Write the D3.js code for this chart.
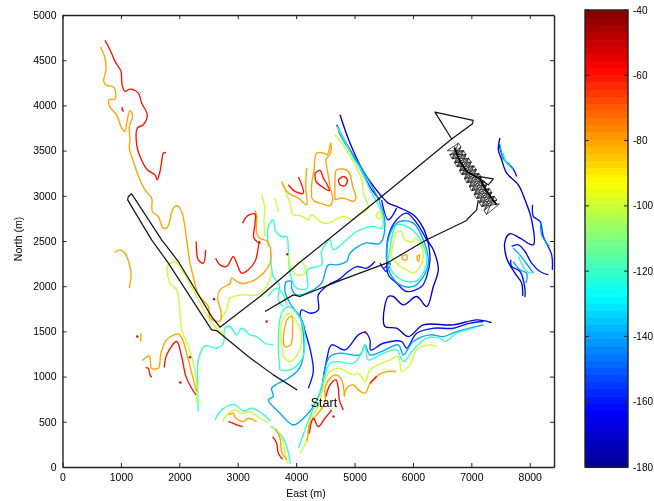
<!DOCTYPE html>
<html>
<head>
<meta charset="utf-8">
<script src="https://cdn.jsdelivr.net/npm/d3@7"></script>
<style>
  html, body { margin: 0; padding: 0; background: #fff; }
  svg { display: block; filter: blur(0.45px); }
  text { font-family: "Liberation Sans", Arial, sans-serif; fill: #000; }
</style>
</head>
<body>
<div id="chart"></div>
<script>
// all contour vertices are [east, north] in metres
const xTicks = [0, 1000, 2000, 3000, 4000, 5000, 6000, 7000, 8000];
const yTicks = [0, 500, 1000, 1500, 2000, 2500, 3000, 3500, 4000, 4500, 5000];
const barTicks = [-40, -60, -80, -100, -120, -140, -160, -180];

const redLines = [
  [[727,4719],[813,4616],[899,4487],[1001,4376],[1019,4228],[1070,4155],[1155,4180],[1298,4136],[1355,4026],[1452,3896],[1384,3786],[1281,3749],[1270,3564],[1327,3435],[1452,3288],[1583,3232],[1623,3177],[1669,3269],[1698,3380],[1726,3472],[1772,3479]],
  [[1013,3981],[1041,3933],[1013,3959]],
  [[2291,2495],[2325,2292],[2411,2255],[2451,2402]],
  [[3084,2697],[3153,2771],[3296,2800],[3296,2697],[3278,2531],[3381,2476],[3370,2495],[3336,2365],[3296,2273],[3181,2181],[3067,2144],[2982,2255],[2925,2328],[2811,2218],[2696,2236],[2622,2310]],
  [[3867,3122],[3981,3048],[4123,3030],[4038,3207]],
  [[4323,3251],[4409,3281],[4466,3196],[4534,3122],[4568,3056],[4437,3104],[4340,3159],[4323,3251]],
  [[4723,3177],[4808,3214],[4877,3177],[4837,3111],[4751,3122],[4723,3177]],
  [[1424,1100],[1469,1092],[1498,1019],[1526,993]],
  [[1743,1100],[1783,1240],[1954,1388],[2040,1222],[2114,1000],[2211,871],[2285,797]],
  [[2839,502],[2925,483],[2982,465],[3084,447]],
  [[3598,336],[3667,262],[3695,151],[3769,85]],
  [[4511,779],[4580,908],[4682,963],[4722,871],[4739,742],[4808,631]],
  [[4226,373],[4294,539],[4380,447],[4494,539],[4608,631]],
  [[5265,926],[5379,1000]]
];
const orangeLines = [
  [[653,4645],[727,4524],[745,4394],[705,4265],[756,4221],[882,4199],[899,4070],[796,4062],[813,3981],[927,3896],[1013,3749],[1070,3712],[1098,3804],[1155,3944],[1201,3878],[1144,3767],[1155,3620],[1144,3527],[1213,3380],[1315,3195],[1412,3066],[1526,2974],[1538,2826],[1640,2771],[1726,2642],[1795,2653],[1897,2863],[1966,2889],[2040,2826],[2086,2697],[2126,2513],[2183,2255],[2240,2107],[2325,1904],[2497,1775],[2525,1646],[2668,1609],[2713,1627],[2708,1738],[2656,1867],[2696,1960],[2868,2033],[2896,2089],[3039,2033],[3239,2052],[3438,2144],[3552,2255],[3564,2402],[3507,2495],[3381,2531],[3324,2586],[3324,2771],[3296,2837]],
  [[1338,1480],[1338,1388]],
  [[1367,1177],[1486,1229],[1526,1092],[1641,1092],[1686,1258],[1783,1406],[1983,1472],[2057,1406],[2154,1185],[2228,1000],[2297,834]],
  [[899,2373],[973,2402],[1070,2365],[1155,2218],[1173,2125],[1144,1978]],
  [[2839,576],[2925,594],[2953,550],[3096,502],[3181,539],[3324,502]],
  [[3638,428],[3724,318],[3752,170],[3838,78]],
  [[3752,3159],[3867,3030],[4038,2975],[4180,2901],[4163,3104],[4180,3307]],
  [[4266,2975],[4323,2938],[4409,2919],[4580,2890],[4625,2956],[4580,3104],[4534,3288],[4511,3399],[4591,3473],[4591,3583],[4534,3454],[4466,3473],[4352,3473],[4306,3288],[4266,3122],[4266,2975]],
  [[4665,2956],[4808,2975],[4979,2938],[5025,2975],[4968,3104],[4894,3270],[4694,3288],[4665,3122],[4665,2956]],
  [[5807,2329],[5892,2347],[5892,2292],[5824,2299],[5807,2329]],
  [[6063,2329],[6109,2347],[6092,2273],[6063,2329]],
  [[3838,1628],[3923,1665],[3941,1517],[3906,1351],[3809,1332],[3781,1443],[3838,1628]],
  [[4825,779],[4865,871],[4979,908],[5065,853],[5179,816],[5265,926],[5407,1019],[5550,1056],[5710,1056]],
  [[4192,281],[4237,484],[4351,576],[4494,705],[4494,871],[4580,982],[4682,1019],[4779,963],[4825,779]]
];
const limeLines = [
  [[3752,3159],[3895,2919],[3952,2790],[4095,2779],[4209,2735],[4266,2790],[4437,2705],[4551,2698],[4723,2753],[4808,2771],[4979,2742],[5065,2790],[5236,2864],[5150,3033],[5122,3177],[5008,3343],[4779,3583],[4665,3676]],
  [[3410,3012],[3467,2845],[3450,2734],[3467,2549]],
  [[3638,2974],[3695,2826],[3667,2900]],
  [[1783,2218],[1840,2033],[1954,1960],[2012,1701],[2040,1517],[2154,1332],[2240,1148],[2297,926],[2297,705]],
  [[1783,2218],[1926,2273],[2097,2125],[2297,1886],[2468,1683],[2639,1535],[2782,1461]],
  [[2696,1627],[2811,1738],[2868,1867],[3096,1904],[3324,1904],[3524,2033],[3581,2181]],
  [[2736,502],[2839,594],[2953,631],[3067,594],[3210,613],[3381,539],[3524,491]],
  [[3610,428],[3752,318],[3809,151],[3849,41]],
  [[3781,1222],[3752,1369],[3752,1591],[3866,1701],[4009,1609],[4095,1443],[4037,1259],[3895,1166],[3781,1222]],
  [[4066,151],[4180,299],[4237,521],[4380,668],[4494,963],[4580,1056],[4722,1093],[4865,1056],[4979,1019],[5065,1037],[5179,945],[5264,1074],[5407,1129],[5607,1185],[5750,1222],[5807,1056],[5949,1129],[6064,1296],[6292,1351],[6406,1332]],
  [[5692,2587],[5807,2605],[5835,2532],[5921,2495],[6006,2495],[6035,2532],[6121,2476],[6178,2329],[6121,2218],[6006,2144],[5892,2181],[5750,2236],[5635,2329],[5664,2476],[5692,2587]],
  [[5367,2790],[5436,2827],[5464,2771],[5407,2746],[5367,2790]],
  [[3866,2365],[3883,2254],[3923,2180],[4066,2273],[4152,2217],[4152,2144],[4009,2125],[3895,2217]]
];
const aquaLines = [
  [[2325,613],[2314,963],[2325,1185],[2440,1340],[2639,1314],[2753,1369],[2782,1535],[2868,1554],[2982,1461],[3067,1535],[3210,1461],[3324,1443],[3467,1369],[3610,1351]],
  [[3524,2439],[3524,2660],[3610,2734],[3638,2623],[3752,2549],[3838,2549],[3866,2402],[3895,2144],[4009,1978],[4192,1978],[4192,2180],[4437,2236],[4437,2383],[4580,2513],[4637,2402],[4865,2513],[5036,2605],[5322,2661],[5464,2642],[5493,2735],[5436,2864],[5293,3030],[5093,3307],[4979,3417],[4808,3639],[4694,3768]],
  [[3564,2365],[3609,2107],[3712,2014],[3695,1848],[3781,1775]],
  [[3524,1886],[3667,1978],[3781,1904],[3838,1788]],
  [[3724,1074],[3695,1369],[3752,1701],[3866,1775],[4009,1701],[4123,1554],[4152,1369],[4095,1185],[3895,1074],[3724,1074]],
  [[2610,520],[2740,640],[2940,690],[3100,620],[3250,650],[3420,590],[3560,510]],
  [[3570,450],[3780,320],[3880,120],[3900,30]],
  [[4037,207],[4237,557],[4380,779],[4494,1019],[4580,1148],[4722,1166],[4979,1148],[5122,1259],[5179,1351],[5236,1185],[5493,1259],[5721,1296],[5835,1166],[6006,1296],[6235,1425],[6463,1425],[6549,1388],[6748,1480],[7034,1535]],
  [[5607,2402],[5721,2679],[5949,2642],[6092,2550],[6206,2402],[6235,2255],[6092,2070],[5892,2052],[5664,2144],[5578,2292],[5607,2402]],
  [[7547,3473],[7604,3362],[7661,3325]],
  [[7804,2329],[7947,2163],[8032,2144]]
];
const skyLines = [
  [[4152,1535],[4066,1664],[3952,1756],[3866,1848],[3809,1941],[3838,2051],[3923,2051],[3923,1978],[4009,1904],[4294,1959],[4437,2033],[4551,2236],[4694,2236],[4865,2273],[4922,2365],[5179,2476],[5436,2476],[5521,2698],[5436,2919],[5236,3177],[5065,3362],[4836,3583],[4722,3712]],
  [[4066,1664],[4123,1480],[4123,1222],[4037,1074],[3866,982],[3695,926],[3581,871],[3609,779],[3524,742],[3724,594],[3952,465],[4152,557],[4294,668],[4437,871],[4494,1093],[4580,1222],[4751,1259],[5093,1240],[5179,1351],[5264,1240],[5464,1277],[5750,1351],[5835,1240],[6006,1388],[6292,1462],[6520,1443],[6748,1498],[7205,1572]],
  [[5550,2439],[5635,2624],[5778,2716],[6006,2698],[6178,2513],[6263,2255],[6178,2107],[6006,1997],[5778,2015],[5607,2144],[5550,2292],[5550,2439]],
  [[7490,3570],[7547,3417],[7718,3296]],
  [[8187,2698],[8204,2569],[8335,2439]],
  [[7718,2421],[7804,2366],[7918,2273],[8061,2144]],
  [[7718,2273],[7833,2181],[7947,2144],[7935,2034]]
];
const blueLines = [
  [[4066,1664],[4180,1443],[4266,1222],[4294,1056],[4209,871]],
  [[4066,1664],[4095,1738],[4237,1701],[4380,1738],[4380,1904],[4551,2014],[4722,2070],[4893,2162],[5036,2217],[5207,2199],[5350,2273]],
  [[4437,853],[4523,1185],[4608,1351],[4836,1295],[5065,1462],[5179,1491],[5264,1406],[5276,1295],[5493,1369],[5807,1388],[5892,1314],[6064,1480],[6349,1535],[6691,1535],[6977,1591],[7205,1609]],
  [[6263,2476],[6292,2292],[6235,2107],[6149,1997],[5892,1941],[5721,2033],[5578,2126],[5550,2292],[5578,2550],[5721,2735],[5892,2808],[6064,2698],[6263,2476]],
  [[5436,2255],[5550,2162],[5607,2255],[5510,2200]],
  [[4694,3786],[4808,3639],[5036,3380],[5293,3067],[5436,2956]],
  [[5464,2956],[5578,2735],[5721,2864]],
  [[7479,3565],[7547,3417],[7718,3296],[7776,3214]],
  [[8049,2901],[8061,2772],[8175,2716],[8232,2550],[8375,2347],[8386,2181]],
  [[7690,2440],[7804,2458],[7918,2384],[8032,2255],[8175,2163],[8318,2126]],
  [[7673,2292],[7690,2218],[7833,2163],[7918,1970],[7918,1878]]
];
const navyLines = [
  [[7347,1598],[7091,1628],[6691,1572],[6178,1572],[5921,1443],[5721,1535],[5521,1554],[5493,1646],[5578,1886],[5664,1886],[5835,1794],[6064,1886],[6235,1775],[6349,1997],[6434,2181],[6349,2402],[6263,2495],[6178,2642],[6006,2790],[5721,2882],[5578,2919],[5464,2993],[5350,3085],[5150,3270],[4922,3583],[4751,3897]],
  [[7490,3639],[7462,3510],[7519,3399],[7604,3251],[7804,3122],[7918,2956],[8032,2735],[8061,2458],[7833,2532],[7661,2580],[7576,2495],[7604,2310],[7747,2144],[7861,2034],[7878,1893]]
];
const specks = [[1281,1443],[2183,1214],[2017,934],[2594,1856],[3495,1609],[3849,2354],[5561,2255],[4640,560],[5180,1490]];

// the vehicle track, in order of travel
const trackOut = [[4020,852],[3610,1019],[3181,1222],[2639,1509],[2554,1517],[1812,2255],[1526,2513],[1115,2955],[1127,2992],[1184,3022],[1698,2513],[1983,2273],[2554,1664],[2696,1546],[3381,1886],[4066,2265],[5464,2993],[6663,3628],[7020,3797],[7031,3834],[6377,3926],[6663,3628]];
const surveyForward = [[6588,3498],[6865,3499],[6630,3454],[6909,3457],[6672,3410],[6953,3415],[6714,3366],[6997,3373],[6756,3322],[7041,3331],[6798,3278],[7085,3289],[6840,3234],[7129,3247],[6882,3190],[7173,3205],[6924,3146],[7217,3163],[6966,3102],[7261,3121],[7008,3058],[7305,3079],[7050,3014],[7349,3037],[7092,2970],[7393,2995],[7134,2926],[7437,2953],[7176,2882],[7481,2911]];
const surveyBack = [[7260,2794],[7393,2995],[7218,2838],[7349,3037],[7176,2882],[7305,3079],[7134,2926],[7261,3121],[7092,2970],[7217,3163],[7050,3014],[7173,3205],[7008,3058],[7129,3247],[6966,3102],[7085,3289],[6924,3146],[7041,3331],[6882,3190],[6997,3373],[6840,3234],[6953,3415],[6798,3278],[6909,3457],[6756,3322],[6865,3499],[6714,3366],[6821,3541],[6672,3410],[6777,3583]];
const surveyRungs = [[6588,3498],[6777,3583],[6821,3541],[6630,3454],[6672,3410],[6865,3499],[6909,3457],[6714,3366],[6756,3322],[6953,3415],[6997,3373],[6798,3278],[6840,3234],[7041,3331],[7085,3289],[6882,3190],[6924,3146],[7129,3247],[7173,3205],[6966,3102],[7008,3058],[7217,3163],[7261,3121],[7050,3014],[7092,2970],[7305,3079],[7349,3037],[7134,2926],[7176,2882],[7393,2995],[7437,2953],[7218,2838],[7260,2794],[7481,2911]];
const surveyStreak = [[6708,3535],[6805,3380],[6919,3269],[7148,3188],[7262,3048],[7433,2900]];
const surveyTurn = [[7119,3214],[7376,3188],[7290,3121],[7148,3188]];
const trackHome = [[7119,2955],[7091,2845],[6948,2752],[6919,2727],[6235,2513],[5550,2255],[4779,2070],[4066,1886],[3952,1904],[3467,1720]];

const startLabel = { east: 4250, north: 665, text: "Start" };

const contourSets = [
  { level: -172, lines: navyLines },
  { level: -160, lines: blueLines },
  { level: -140, lines: skyLines },
  { level: -120, lines: aquaLines },
  { level: -100, lines: limeLines },
  { level: -80, lines: orangeLines },
  { level: -60, lines: redLines }
];

const width = 654, height = 501;
const plotLeft = 62.5, plotRight = 554, plotTop = 15, plotBottom = 467;
const barLeft = 585, barRight = 628;

const svg = d3.select("#chart").append("svg")
    .attr("width", width)
    .attr("height", height);

const x = d3.scaleLinear().domain([0, 8415]).range([plotLeft, plotRight]);
const y = d3.scaleLinear().domain([0, 5000]).range([plotBottom, plotTop]);

const jet = d3.scaleLinear()
    .domain([-180, -162.5, -127.5, -92.5, -57.5, -40])
    .range(["#00008f", "#0000ff", "#00ffff", "#ffff00", "#ff0000", "#800000"])
    .interpolate(d3.interpolateRgb);

const line = d3.line().x(d => x(d[0])).y(d => y(d[1]));
const softLine = d3.line().x(d => x(d[0])).y(d => y(d[1])).curve(d3.curveCatmullRom.alpha(0.5));

// contours
contourSets.forEach(function(set){
    svg.append("g").selectAll("path")
        .data(set.lines)
        .enter()
        .append("path")
        .attr("d", softLine)
        .attr("fill", "none")
        .attr("stroke", jet(set.level))
        .attr("stroke-width", 1.35)
        .attr("stroke-linejoin", "round");
});

svg.append("g").selectAll("circle")
    .data(specks)
    .enter()
    .append("circle")
    .attr("cx", d => x(d[0]))
    .attr("cy", d => y(d[1]))
    .attr("r", 1.2)
    .attr("fill", "#c81010");

// track
[trackOut, surveyTurn, trackHome].forEach(function(part){
    svg.append("path")
        .attr("d", line(part))
        .attr("fill", "none")
        .attr("stroke", "#111")
        .attr("stroke-width", 1.2)
        .attr("stroke-linejoin", "round");
});
[surveyForward, surveyBack, surveyRungs].forEach(function(part){
    svg.append("path")
        .attr("d", line(part))
        .attr("fill", "none")
        .attr("stroke", "#222")
        .attr("stroke-width", 0.8);
});
svg.append("path")
    .attr("d", line(surveyStreak))
    .attr("fill", "none")
    .attr("stroke", "#000")
    .attr("stroke-width", 1.8);

svg.append("text")
    .attr("x", x(startLabel.east))
    .attr("y", y(startLabel.north))
    .attr("font-size", 12.5)
    .text(startLabel.text);

// axes, boxed with ticks inside on all four sides
function styleAxis(g){
    g.selectAll("text").attr("font-size", 10.5).attr("fill", "#000");
    g.selectAll("line").attr("stroke", "#222");
    g.select(".domain").attr("stroke", "#222").attr("stroke-width", 1.4);
}
svg.append("g").attr("transform", "translate(0," + plotBottom + ")")
    .call(d3.axisBottom(x).tickValues(xTicks).tickFormat(d3.format("d")).tickSizeInner(-4).tickSizeOuter(0).tickPadding(7))
    .call(styleAxis);
svg.append("g").attr("transform", "translate(0," + plotTop + ")")
    .call(d3.axisTop(x).tickValues(xTicks).tickFormat("").tickSizeInner(-4).tickSizeOuter(0))
    .call(styleAxis);
svg.append("g").attr("transform", "translate(" + plotLeft + ",0)")
    .call(d3.axisLeft(y).tickValues(yTicks).tickFormat(d3.format("d")).tickSizeInner(-4).tickSizeOuter(0).tickPadding(6))
    .call(styleAxis);
svg.append("g").attr("transform", "translate(" + plotRight + ",0)")
    .call(d3.axisRight(y).tickValues(yTicks).tickFormat("").tickSizeInner(-4).tickSizeOuter(0))
    .call(styleAxis);

svg.append("text")
    .attr("x", 306)
    .attr("y", 497)
    .attr("text-anchor", "middle")
    .attr("font-size", 10.5)
    .text("East (m)");
svg.append("text")
    .attr("transform", "translate(22,239) rotate(-90)")
    .attr("text-anchor", "middle")
    .attr("font-size", 10.5)
    .text("North (m)");

// colorbar, 64 steps like a matlab jet map
const barY = d3.scaleLinear().domain([-180, -40]).range([plotBottom, 10]);
const steps = d3.range(64);
const stepH = (plotBottom - 10) / 64;
svg.append("g").attr("shape-rendering", "crispEdges").selectAll("rect")
    .data(steps)
    .enter()
    .append("rect")
    .attr("x", barLeft)
    .attr("y", d => barY(-180 + (d + 1) * 140 / 64))
    .attr("width", barRight - barLeft)
    .attr("height", stepH + 1)
    .attr("fill", d => jet(-180 + (d + 0.5) * 140 / 64));

svg.append("rect")
    .attr("x", barLeft).attr("y", 10)
    .attr("width", barRight - barLeft).attr("height", plotBottom - 10)
    .attr("fill", "none").attr("stroke", "#222").attr("stroke-width", 1.4);

svg.append("g").selectAll("line.tl")
    .data(barTicks)
    .enter()
    .append("line")
    .attr("x1", barLeft).attr("x2", barLeft + 4)
    .attr("y1", d => barY(d)).attr("y2", d => barY(d))
    .attr("stroke", "#222");
svg.append("g").selectAll("line.tr")
    .data(barTicks)
    .enter()
    .append("line")
    .attr("x1", barRight - 4).attr("x2", barRight)
    .attr("y1", d => barY(d)).attr("y2", d => barY(d))
    .attr("stroke", "#222");
svg.append("g").selectAll("text")
    .data(barTicks)
    .enter()
    .append("text")
    .attr("x", 633)
    .attr("y", d => barY(d) + 3.5)
    .attr("font-size", 10)
    .text(d => d);
</script>
</body>
</html>
